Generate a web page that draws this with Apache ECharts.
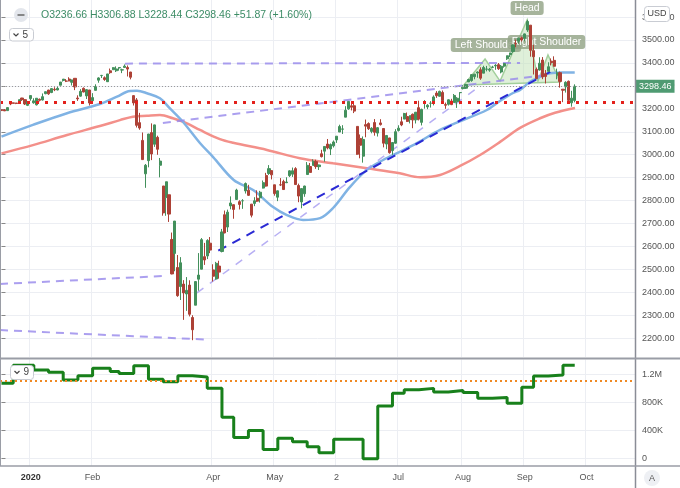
<!DOCTYPE html>
<html><head><meta charset="utf-8">
<script src="https://cdn.jsdelivr.net/npm/echarts@6/dist/echarts.min.js"></script>
<style>html,body{margin:0;padding:0;background:#fff}#c{width:680px;height:488px}</style>
</head><body><div id="c"></div>
<script>
// ---- DATA ----
// [date, open, high, low, close]
const candles = [
['2019-12-17',3195.40,3198.22,3191.03,3192.52],['2019-12-18',3195.21,3198.48,3191.14,3191.14],
['2019-12-19',3192.32,3205.48,3191.72,3205.37],['2019-12-20',3223.33,3225.65,3216.03,3221.22],
['2019-12-23',3226.05,3227.78,3222.30,3224.01],['2019-12-24',3225.45,3226.43,3220.51,3223.38],
['2019-12-26',3227.20,3240.08,3227.20,3239.91],['2019-12-27',3247.23,3247.93,3234.37,3240.02],
['2019-12-30',3240.09,3240.92,3216.57,3221.29],['2019-12-31',3215.18,3231.72,3212.03,3230.78],
['2020-01-02',3244.67,3258.14,3235.53,3257.85],['2020-01-03',3226.36,3246.15,3222.34,3234.85],
['2020-01-06',3217.55,3246.84,3214.64,3246.28],['2020-01-07',3241.86,3244.91,3232.43,3237.18],
['2020-01-08',3238.59,3267.07,3236.67,3253.05],['2020-01-09',3266.03,3275.58,3263.67,3274.70],
['2020-01-10',3281.81,3282.99,3260.86,3265.35],['2020-01-13',3271.13,3288.13,3268.43,3288.13],
['2020-01-14',3285.35,3294.25,3277.19,3283.15],['2020-01-15',3282.27,3298.66,3280.69,3289.29],
['2020-01-16',3302.97,3317.11,3302.82,3316.81],['2020-01-17',3323.66,3329.88,3318.86,3329.62],
['2020-01-21',3321.03,3329.79,3316.61,3320.79],['2020-01-22',3330.02,3337.77,3320.04,3321.75],
['2020-01-23',3315.77,3326.88,3301.87,3325.54],['2020-01-24',3333.10,3333.18,3281.53,3295.47],
['2020-01-27',3247.16,3258.85,3234.50,3243.63],['2020-01-28',3255.35,3285.78,3253.22,3276.24],
['2020-01-29',3289.46,3293.47,3271.89,3273.40],['2020-01-30',3256.45,3285.91,3242.80,3283.66],
['2020-01-31',3282.33,3282.33,3214.68,3225.52],
['2020-02-03',3235.66,3268.44,3235.66,3248.92],['2020-02-04',3280.61,3306.92,3280.61,3297.59],
['2020-02-05',3324.91,3337.58,3313.75,3334.69],['2020-02-06',3344.92,3347.96,3334.39,3345.78],
['2020-02-07',3335.54,3341.42,3322.12,3327.71],['2020-02-10',3318.28,3352.26,3317.77,3352.09],
['2020-02-11',3365.87,3375.63,3352.72,3357.75],['2020-02-12',3370.50,3381.47,3369.72,3379.45],
['2020-02-13',3365.90,3385.09,3360.52,3373.94],['2020-02-14',3378.08,3380.69,3366.15,3380.16],
['2020-02-18',3369.04,3375.01,3355.61,3370.29],['2020-02-19',3380.39,3393.52,3378.83,3386.15],
['2020-02-20',3380.45,3389.15,3341.02,3373.23],['2020-02-21',3360.50,3360.76,3328.45,3337.75],
['2020-02-24',3257.61,3259.81,3214.65,3225.89],['2020-02-25',3238.94,3246.99,3118.77,3128.21],
['2020-02-26',3139.90,3182.51,3108.99,3116.39],['2020-02-27',3062.54,3097.07,2977.39,2978.76],
['2020-02-28',2916.90,2959.72,2855.84,2954.22],
['2020-03-02',2974.28,3090.96,2945.19,3090.23],['2020-03-03',3096.46,3136.72,2976.63,3003.37],
['2020-03-04',3045.75,3130.97,3034.38,3130.12],['2020-03-05',3075.70,3083.04,2999.83,3023.94],
['2020-03-06',2954.20,2985.93,2901.54,2972.37],['2020-03-09',2863.89,2863.89,2734.43,2746.56],
['2020-03-10',2813.48,2882.59,2734.00,2882.23],['2020-03-11',2825.60,2825.60,2707.22,2741.38],
['2020-03-12',2630.86,2660.95,2478.86,2480.64],['2020-03-13',2569.99,2711.33,2492.37,2711.02],
['2020-03-16',2508.59,2562.98,2380.94,2386.13],['2020-03-17',2425.66,2553.93,2367.04,2529.19],
['2020-03-18',2436.50,2453.57,2280.52,2398.10],['2020-03-19',2393.48,2466.97,2319.78,2409.39],
['2020-03-20',2431.94,2453.01,2295.56,2304.92],['2020-03-23',2290.71,2300.73,2191.86,2237.40],
['2020-03-24',2344.44,2449.71,2344.44,2447.33],['2020-03-25',2457.77,2571.42,2407.53,2475.56],
['2020-03-26',2501.29,2637.01,2500.72,2630.07],['2020-03-27',2555.87,2615.91,2520.02,2541.47],
['2020-03-30',2558.98,2631.80,2545.28,2626.65],['2020-03-31',2614.69,2641.39,2571.15,2584.59],
['2020-04-01',2498.08,2522.75,2447.49,2470.50],['2020-04-02',2458.54,2533.22,2455.79,2526.90],
['2020-04-03',2514.92,2538.18,2459.96,2488.65],['2020-04-06',2578.28,2676.85,2574.57,2663.68],
['2020-04-07',2738.65,2756.89,2657.67,2659.41],['2020-04-08',2685.00,2760.75,2663.30,2749.98],
['2020-04-09',2776.99,2818.57,2762.36,2789.82],['2020-04-13',2782.46,2782.46,2721.17,2761.63],
['2020-04-14',2805.10,2851.85,2805.10,2846.06],['2020-04-15',2795.64,2801.88,2761.54,2783.36],
['2020-04-16',2799.34,2806.51,2764.32,2799.55],['2020-04-17',2842.43,2879.22,2830.88,2874.56],
['2020-04-20',2845.62,2868.98,2820.43,2823.16],['2020-04-21',2784.81,2785.54,2727.10,2736.56],
['2020-04-22',2787.89,2815.10,2775.95,2799.31],['2020-04-23',2810.42,2844.90,2794.26,2797.80],
['2020-04-24',2812.64,2842.71,2791.76,2836.74],['2020-04-27',2854.65,2887.72,2852.89,2878.48],
['2020-04-28',2909.96,2921.15,2860.71,2863.39],['2020-04-29',2918.46,2954.86,2912.16,2939.51],
['2020-04-30',2930.91,2930.91,2892.47,2912.43],
['2020-05-01',2869.09,2869.09,2821.61,2830.71],['2020-05-04',2815.01,2844.24,2797.85,2842.74],
['2020-05-05',2868.88,2898.23,2863.55,2868.44],['2020-05-06',2883.14,2891.11,2847.65,2848.42],
['2020-05-07',2878.26,2901.92,2876.48,2881.19],['2020-05-08',2908.83,2932.16,2902.88,2929.80],
['2020-05-11',2915.46,2944.25,2903.44,2930.32],['2020-05-12',2939.50,2945.82,2869.59,2870.12],
['2020-05-13',2865.86,2874.14,2793.15,2820.00],['2020-05-14',2794.54,2852.80,2766.64,2852.50],
['2020-05-15',2829.95,2865.01,2816.78,2863.70],['2020-05-18',2913.86,2968.09,2913.86,2953.91],
['2020-05-19',2948.59,2964.21,2922.35,2922.94],['2020-05-20',2953.63,2980.29,2953.63,2971.61],
['2020-05-21',2969.95,2978.50,2938.57,2948.51],['2020-05-22',2948.05,2956.76,2933.59,2955.45],
['2020-05-26',3004.08,3021.72,2988.17,2991.77],['2020-05-27',3015.65,3036.25,2969.75,3036.13],
['2020-05-28',3046.61,3068.67,3023.40,3029.73],['2020-05-29',3025.17,3049.17,2998.61,3044.31],
['2020-06-01',3038.78,3062.18,3031.54,3055.73],['2020-06-02',3064.78,3081.07,3051.64,3080.82],
['2020-06-03',3098.90,3130.94,3098.90,3122.87],['2020-06-04',3111.56,3128.91,3090.41,3112.35],
['2020-06-05',3163.84,3211.72,3163.84,3193.93],['2020-06-08',3199.92,3233.13,3196.00,3232.39],
['2020-06-09',3213.32,3222.71,3193.11,3207.18],['2020-06-10',3213.42,3223.27,3181.49,3190.14],
['2020-06-11',3123.53,3123.53,2999.49,3002.10],['2020-06-12',3071.04,3088.42,2984.47,3041.31],
['2020-06-15',2993.76,3079.76,2965.66,3066.59],['2020-06-16',3131.00,3153.45,3076.06,3124.74],
['2020-06-17',3136.13,3141.16,3108.03,3113.49],['2020-06-18',3101.64,3120.00,3093.51,3115.34],
['2020-06-19',3140.29,3155.53,3083.11,3097.74],['2020-06-22',3094.42,3120.92,3079.39,3117.86],
['2020-06-23',3138.70,3154.90,3127.12,3131.29],['2020-06-24',3114.40,3115.01,3032.13,3050.33],
['2020-06-25',3046.60,3086.25,3024.01,3083.76],['2020-06-26',3073.20,3073.73,3004.63,3009.05],
['2020-06-29',3018.59,3053.89,2999.74,3053.24],['2020-06-30',3050.20,3111.51,3047.83,3100.29],
['2020-07-01',3105.92,3128.44,3101.17,3115.86],['2020-07-02',3143.64,3165.81,3124.52,3130.01],
['2020-07-06',3155.29,3182.59,3155.29,3179.72],['2020-07-07',3166.44,3184.15,3142.93,3145.32],
['2020-07-08',3153.07,3171.80,3136.53,3169.94],['2020-07-09',3176.17,3179.78,3115.70,3152.05],
['2020-07-10',3152.47,3186.82,3136.22,3185.04],['2020-07-13',3205.08,3235.32,3149.43,3155.22],
['2020-07-14',3141.11,3200.95,3127.66,3197.52],['2020-07-15',3225.98,3238.28,3200.76,3226.56],
['2020-07-16',3208.36,3220.39,3198.59,3215.57],['2020-07-17',3224.21,3233.52,3205.65,3224.73],
['2020-07-20',3224.29,3258.61,3215.16,3251.84],['2020-07-21',3268.52,3277.29,3247.77,3257.30],
['2020-07-22',3254.86,3279.32,3253.10,3276.02],['2020-07-23',3271.64,3279.99,3222.66,3235.66],
['2020-07-24',3218.58,3227.26,3200.05,3215.63],['2020-07-27',3219.84,3241.43,3214.25,3239.41],
['2020-07-28',3234.27,3243.72,3216.17,3218.44],['2020-07-29',3227.22,3264.74,3227.22,3258.44],
['2020-07-30',3231.76,3250.92,3204.13,3246.22],['2020-07-31',3270.45,3272.17,3220.26,3271.12],
['2020-08-03',3288.26,3302.73,3284.53,3294.61],['2020-08-04',3289.92,3306.84,3286.37,3306.51],
['2020-08-05',3317.37,3330.77,3317.37,3327.77],['2020-08-06',3323.17,3351.03,3318.14,3349.16],
['2020-08-07',3340.05,3352.54,3328.72,3351.28],['2020-08-10',3356.04,3363.29,3335.44,3360.47],
['2020-08-11',3370.34,3381.01,3326.44,3333.69],['2020-08-12',3355.46,3387.89,3355.46,3380.35],
['2020-08-13',3372.95,3387.24,3363.35,3373.43],['2020-08-14',3368.66,3378.51,3361.64,3372.85],
['2020-08-17',3380.86,3387.59,3379.22,3381.99],['2020-08-18',3387.04,3395.06,3370.15,3389.78],
['2020-08-19',3392.51,3399.54,3369.66,3374.85],['2020-08-20',3360.48,3390.80,3354.69,3385.51],
['2020-08-21',3386.01,3399.96,3379.31,3397.16],['2020-08-24',3418.09,3432.09,3413.13,3431.28],
['2020-08-25',3435.95,3444.21,3425.84,3443.62],['2020-08-26',3449.97,3481.07,3444.15,3478.73],
['2020-08-27',3485.14,3501.38,3468.35,3484.55],['2020-08-28',3494.69,3509.23,3484.32,3508.01],
['2020-08-31',3509.73,3514.77,3493.25,3500.31],
['2020-09-01',3507.44,3528.03,3494.60,3526.65],['2020-09-02',3543.76,3588.11,3535.23,3580.84],
['2020-09-03',3564.74,3564.85,3427.41,3455.06],['2020-09-04',3453.60,3479.15,3349.63,3426.96],
['2020-09-08',3371.88,3379.97,3329.27,3331.84],['2020-09-09',3369.02,3424.77,3366.84,3398.96],
['2020-09-10',3412.56,3425.55,3329.25,3339.19],['2020-09-11',3352.70,3368.95,3310.47,3340.97],
['2020-09-14',3363.56,3402.93,3363.56,3383.54],['2020-09-15',3407.73,3419.48,3389.25,3401.20],
['2020-09-16',3411.23,3428.92,3384.45,3385.49],['2020-09-17',3346.86,3375.17,3328.82,3357.01],
['2020-09-18',3357.38,3362.27,3292.40,3319.47],['2020-09-21',3285.57,3285.57,3229.10,3281.06],
['2020-09-22',3295.75,3320.31,3270.95,3315.57],['2020-09-23',3320.11,3323.35,3232.57,3236.92],
['2020-09-24',3226.14,3278.70,3209.45,3246.59],['2020-09-25',3236.66,3306.88,3228.44,3298.46]
];
const futureDates = ['2020-09-28','2020-09-29','2020-09-30','2020-10-01','2020-10-02','2020-10-05',
'2020-10-06','2020-10-07','2020-10-08','2020-10-09','2020-10-12','2020-10-13','2020-10-14',
'2020-10-15','2020-10-16','2020-10-19','2020-10-20','2020-10-21','2020-10-22','2020-10-23'];

const monthTickDates  = ['2020-01-02','2020-02-03','2020-04-01','2020-05-01','2020-06-02','2020-07-01','2020-08-03','2020-09-01','2020-10-01'];
const monthTickLabels = ['2020','Feb','Apr','May','2','Jul','Aug','Sep','Oct'];
const priceTicks = [2200,2300,2400,2500,2600,2700,2800,2900,3000,3100,3200,3300,3400,3500,3600];
const lowerTicks = [0,400000,800000,1200000];

// moving averages: [trading-day index, value]
const ma50 = [[0,3079],[10.7,3130],[22.3,3181],[33.5,3221],[39.3,3253],[43.7,3278],[46.1,3279],[49.5,3268],
[53.9,3246],[57.3,3202],[61.7,3144],[67.5,3051],[72,2990],[79,2890],[85.6,2846],[92.4,2772],[97.1,2737],
[102.6,2716],[108.4,2724],[112.8,2768],[118.5,2859],[124.3,2934],[129.8,2977],[135.5,3013],[141.3,3051],
[149.2,3108],[157,3151],[165.1,3195],[168.5,3225],[174,3269],[176.4,3282],[179.8,3318],[183.2,3339],
[186.6,3355],[191,3358],[195,3358]];
const ma200 = [[0,3006],[10.7,3042],[22.3,3086],[33.5,3125],[40.3,3151],[44.7,3166],[49.5,3170],[53.9,3173],
[58.3,3159],[63.1,3137],[67.5,3108],[74.3,3068],[78.8,3052],[90.3,3021],[101.5,2985],[112.8,2963],
[124.3,2941],[135.5,2919],[142.4,2902],[149.2,2912],[156,2951],[162.8,2999],[169.6,3056],[176.4,3117],
[183.2,3159],[188.3,3183],[195.1,3204]];

// hand-drawn trend lines: [index, value]
const trendFebHigh     = [[42.0,3397],[176.4,3400]];
const trendMarchBase   = [[-0.5,2437],[55.6,2472]];
const trendMarchLow    = [[-0.5,2236],[69.2,2195]];
const trendRecoveryOut = [[66.5,2398],[162.8,3300]];
const trendRecoveryIn  = [[73.75,2582],[188.6,3374]];
const trendMid         = [[54.9,3138],[184.9,3347]];

// head & shoulders outline and its labels
const hsPattern = [[157.3,3304],[164.5,3417],[169.6,3321],[178.8,3587],[182.5,3321],[185.9,3435],[190,3317]];
const hsLabelText = ['Left Shoulder','Head','Right Shoulder'];
const hsLabelAt   = [[164.8,3478],[178.8,3639],[185.4,3491]];

const supportLevel = 3229;

// lower pane step line: [index, value]
const lowerLine = [[0,1072000],[4,1330000],[11,1260000],[16,1230000],[21,1120000],[26,1180000],[31,1285000],
[37,1240000],[40,1210000],[45,1320000],[50,1130000],[55,1095000],[60,1180000],[65,1160000],[70,1000000],
[75,590000],[79,300000],[84,400000],[89,130000],[94,290000],[99,240000],[104,170000],[108,85000],
[113,275000],[123,0],[128,750000],[133,930000],[137,980000],[142,1000000],[147,950000],[152,970000],
[157,940000],[162,860000],[167,870000],[172,790000],[177,1015000],[181,1175000],[186,1190000],
[191,1330000],[195,1330000]];
const lowerLevel = 1110000;

// ---- CHART ----
const FONT = "'Liberation Sans', Arial, sans-serif";
const GRID = '#eceef3';
const dates = candles.map(r => r[0]).concat(futureDates);
const N = dates.length;
const monthIdx = monthTickDates.map(d => dates.indexOf(d));
const isMonth = (idx) => monthIdx.indexOf(idx) >= 0;
const ohlc = candles.map(r => [r[1], r[4], r[3], r[2]]);
const last = candles[candles.length - 1], prev = candles[candles.length - 2];
const chg = last[4] - prev[4];
const headerText = 'O' + last[1].toFixed(2) + ' H' + last[2].toFixed(2) + ' L' + last[3].toFixed(2) +
  ' C' + last[4].toFixed(2) + ' +' + chg.toFixed(2) + ' (+' + (chg / prev[4] * 100).toFixed(2) + '%)';

function txt(x, y, text, size, color, align, extra) {
  return Object.assign({ type: 'text', x: x, y: y, z: 101,
    style: { text: text, fill: color, font: size + 'px ' + FONT, align: align, textAlign: align,
      verticalAlign: 'middle', textVerticalAlign: 'middle' } }, extra || {});
}
function trend(pts, color, width, dash) {
  return { type: 'line', xAxisIndex: 1, yAxisIndex: 0, data: pts, showSymbol: false, silent: true, z: 3,
    lineStyle: { color: color, width: width, type: dash }, animation: false };
}

const chart = echarts.init(document.getElementById('c'));
chart.setOption({
  animation: false,
  backgroundColor: '#fff',
  grid: [
    { left: 0, right: 45, top: 0, height: 357 },
    { left: 0, right: 45, top: 359.5, height: 106.5 }
  ],
  xAxis: [
    { type: 'category', gridIndex: 0, data: dates, boundaryGap: true,
      axisLine: { show: false }, axisTick: { show: false }, axisLabel: { show: false },
      splitLine: { show: true, interval: isMonth, lineStyle: { color: GRID } } },
    { type: 'value', gridIndex: 0, min: -0.5, max: N - 0.5, show: false },
    { type: 'category', gridIndex: 1, data: dates, boundaryGap: true,
      axisLine: { show: false }, axisTick: { show: false },
      axisLabel: { show: true, interval: isMonth, margin: 7, fontSize: 9, color: '#555', fontFamily: FONT,
        formatter: (v) => { const k = monthTickDates.indexOf(v); if (k < 0) return ''; const s = monthTickLabels[k]; return /^\d{4}$/.test(s) ? '{b|' + s + '}' : s; },
        rich: { b: { fontWeight: 'bold', fontSize: 9, color: '#333', fontFamily: FONT } } },
      splitLine: { show: true, interval: isMonth, lineStyle: { color: GRID } } },
    { type: 'value', gridIndex: 1, min: -0.5, max: N - 0.5, show: false }
  ],
  yAxis: [
    { type: 'value', gridIndex: 0, position: 'right', min: 2118.7, max: 3674.3,
      axisLine: { show: false },
      axisTick: { show: true, customValues: priceTicks, length: 4, lineStyle: { color: '#888' } },
      axisLabel: { customValues: priceTicks, formatter: (v) => v.toFixed(2), fontSize: 9, color: '#555', margin: 7, fontFamily: FONT },
      splitLine: { show: true, lineStyle: { color: GRID } } },
    { type: 'value', gridIndex: 1, position: 'right', min: -103800, max: 1410500,
      axisLine: { show: false },
      axisTick: { show: true, customValues: lowerTicks, length: 4, lineStyle: { color: '#888' } },
      axisLabel: { customValues: lowerTicks, fontSize: 9, color: '#555', margin: 7, fontFamily: FONT,
        formatter: (v) => v === 0 ? '0' : (v >= 1e6 ? (v / 1e6) + 'M' : (v / 1e3) + 'K') },
      splitLine: { show: true, lineStyle: { color: GRID } } }
  ],
  series: [
    { type: 'custom', xAxisIndex: 1, yAxisIndex: 0, z: 1, silent: true, data: [hsPattern[0]],
      renderItem: (p, api) => ({ type: 'polygon', shape: { points: hsPattern.map(pt => api.coord(pt)) },
        style: { fill: 'rgba(196,228,186,0.55)', stroke: '#a2cf9b', lineWidth: 1.5 } }) },
    { type: 'custom', xAxisIndex: 1, yAxisIndex: 0, z: 2, silent: true, data: hsLabelAt,
      renderItem: (p, api) => { const c = api.coord([api.value(0), api.value(1)]);
        return { type: 'text', x: c[0], y: c[1], style: { text: hsLabelText[p.dataIndex], fill: '#fff',
          font: '10.5px ' + FONT, align: 'center', verticalAlign: 'middle', textAlign: 'center', textVerticalAlign: 'middle',
          backgroundColor: 'rgba(146,164,134,0.82)', textBackgroundColor: 'rgba(146,164,134,0.82)',
          padding: [2, 4, 1, 4], textPadding: [2, 4, 1, 4], borderRadius: 3, textBorderRadius: 3 } }; } },
    { type: 'line', xAxisIndex: 1, yAxisIndex: 0, data: ma200, smooth: 0.35, showSymbol: false, silent: true, z: 3,
      lineStyle: { color: '#f3908a', width: 2.5 } },
    { type: 'line', xAxisIndex: 1, yAxisIndex: 0, data: ma50, smooth: 0.35, showSymbol: false, silent: true, z: 3,
      lineStyle: { color: '#80b3e4', width: 2.5 } },
    trend(trendFebHigh, 'rgba(150,135,235,0.8)', 2, [8, 6]),
    trend(trendMarchBase, 'rgba(150,135,235,0.8)', 2, [8, 6]),
    trend(trendMarchLow, 'rgba(150,135,235,0.8)', 2, [8, 6]),
    trend(trendMid, 'rgba(150,135,235,0.8)', 2, [8, 6]),
    trend(trendRecoveryOut, 'rgba(165,155,240,0.8)', 1.5, [8, 8]),
    trend(trendRecoveryIn, '#2a2ad4', 2, [9, 7]),
    { type: 'candlestick', xAxisIndex: 0, yAxisIndex: 0, data: ohlc, barWidth: 2.6, z: 4, silent: true,
      itemStyle: { color: '#43905c', color0: '#ad4136', borderColor: '#43905c', borderColor0: '#ad4136', borderWidth: 1 },
      markLine: { silent: true, symbol: ['none', 'none'], animation: false, data: [
        { yAxis: supportLevel, lineStyle: { color: '#e3201c', type: [3, 6], width: 3 }, label: { show: false } },
        { yAxis: last[4], lineStyle: { color: '#9a9a9a', type: [1, 2], width: 1 },
          label: { show: true, position: 'end', distance: 1, formatter: (p) => Number(p.value).toFixed(2),
            color: '#fff', backgroundColor: '#4f9b72', padding: [2, 3, 2, 3], fontSize: 9, fontFamily: FONT } }
      ] } },
    { type: 'line', xAxisIndex: 3, yAxisIndex: 1, data: lowerLine, step: 'end', showSymbol: false, silent: true, z: 3,
      lineStyle: { color: '#18801b', width: 3 },
      markLine: { silent: true, symbol: ['none', 'none'], animation: false, data: [
        { yAxis: lowerLevel, lineStyle: { color: '#f08a24', type: [2, 3], width: 2 }, label: { show: false } }
      ] } }
  ],
  graphic: [
    { type: 'line', z: 100, shape: { x1: 635.5, y1: 0, x2: 635.5, y2: 488 }, style: { stroke: '#8a8d96', lineWidth: 1.5 } },
    { type: 'line', z: 100, shape: { x1: 0, y1: 358.5, x2: 680, y2: 358.5 }, style: { stroke: '#9a9da6', lineWidth: 2 } },
    { type: 'line', z: 100, shape: { x1: 0, y1: 466, x2: 680, y2: 466 }, style: { stroke: '#9a9da6', lineWidth: 1.5 } },
    { type: 'line', z: 100, shape: { x1: 0.5, y1: 0, x2: 0.5, y2: 466 }, style: { stroke: '#9a9da6', lineWidth: 1 } },
    { type: 'circle', z: 100, shape: { cx: 21, cy: 15, r: 7 }, style: { fill: '#e3e6ec' } },
    { type: 'line', z: 101, shape: { x1: 17.5, y1: 15, x2: 24.5, y2: 15 }, style: { stroke: '#666', lineWidth: 1.5 } },
    txt(41, 15.5, headerText, 10.5, '#3c8c66', 'left'),
    { type: 'rect', z: 100, shape: { x: 9.5, y: 28.5, width: 24, height: 12.5, r: 3 }, style: { fill: '#fff', stroke: '#c9ccd3', lineWidth: 1 } },
    { type: 'polyline', z: 101, shape: { points: [[13.5, 33.5], [16, 36], [18.5, 33.5]] }, style: { stroke: '#444', lineWidth: 1.2, fill: null } },
    txt(22.5, 35, '5', 10, '#444', 'left'),
    { type: 'rect', z: 100, shape: { x: 10.5, y: 365.5, width: 23, height: 14, r: 3 }, style: { fill: '#fff', stroke: '#c9ccd3', lineWidth: 1 } },
    { type: 'polyline', z: 101, shape: { points: [[14.5, 371], [17, 373.5], [19.5, 371]] }, style: { stroke: '#444', lineWidth: 1.2, fill: null } },
    txt(23.5, 372.5, '9', 10, '#444', 'left'),
    { type: 'rect', z: 100, shape: { x: 644.5, y: 6.5, width: 25, height: 15, r: 3 }, style: { fill: '#fff', stroke: '#c9ccd3', lineWidth: 1 } },
    txt(657, 14, 'USD', 9, '#444', 'center'),
    { type: 'circle', z: 100, shape: { cx: 652, cy: 478, r: 8 }, style: { fill: '#eef0f4' } },
    txt(652, 478.5, 'A', 9, '#555', 'center')
  ]
});
</script>
</body></html>
